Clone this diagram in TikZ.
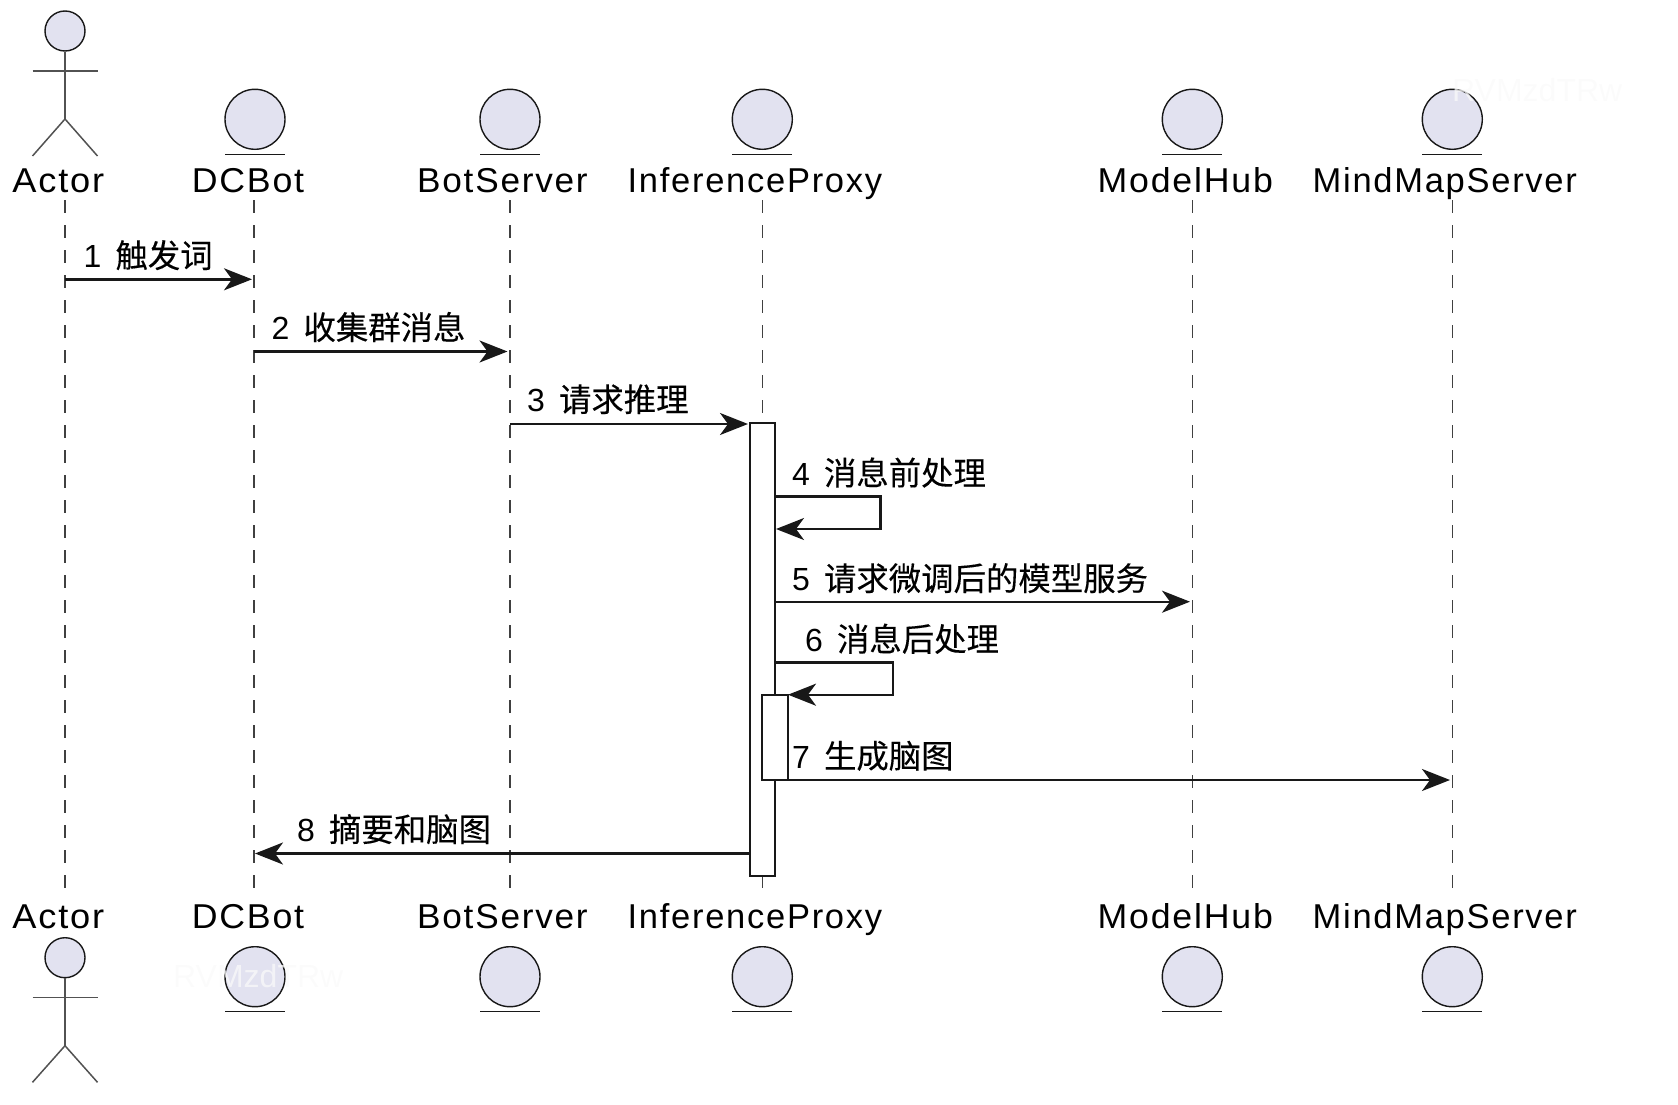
\documentclass[tikz,border=0pt]{standalone}
\usepackage{fontspec}
\usetikzlibrary{arrows.meta}
\setmainfont{Liberation Sans}
\newfontfamily\namefont[LetterSpace=5]{Liberation Sans}
\newfontfamily\cjk[FakeBold=0.25]{Noto Sans CJK SC}
\definecolor{actfill}{HTML}{E2E2F0}
\definecolor{ink}{HTML}{181818}
\definecolor{lifeline}{HTML}{404040}
\definecolor{faint}{HTML}{FAFAFA}
\newcommand{\msgtext}[2]{#1\hspace{14pt}{\fontsize{32.4}{38}\selectfont\cjk #2}}
\tikzset{
  x=1pt,y=-1pt,
  head/.style={circle,draw=ink,fill=actfill,line width=1.4pt,minimum size=60pt,inner sep=0pt},
  smallhead/.style={circle,draw=ink,fill=actfill,line width=1.4pt,minimum size=40pt,inner sep=0pt},
  under/.style={draw=ink,line width=1.4pt},
  limb/.style={draw=ink!75,line width=1.5pt},
  namelabel/.style={anchor=base west,inner sep=0pt,text=black,font=\fontsize{34.5}{40}\selectfont\namefont},
  msglabel/.style={anchor=base west,inner sep=0pt,text=black,font=\fontsize{32}{38}\selectfont},
  wmark/.style={anchor=base west,inner sep=0pt,text=faint,opacity=.75,font=\fontsize{32}{38}\selectfont},
  lifelinestyle/.style={draw=lifeline,line width=1.4pt,dash pattern=on 13pt off 12pt},
  msg/.style={draw=ink,line width=2.4pt,-{Stealth[length=28pt,width=22pt,inset=8pt]}},
  selfmsg/.style={msg,rounded corners=0pt},
  actbox/.style={draw=ink,fill=white,line width=2.2pt}
}
\begin{document}
\begin{tikzpicture}
\useasboundingbox (0,0) rectangle (1678,1105);
% lifelines
\coordinate (l1a) at (65,200);\coordinate (l1b) at (65,890);
\coordinate (l2a) at (254,200);\coordinate (l2b) at (254,890);
\coordinate (l3a) at (510,200);\coordinate (l3b) at (510,890);
\coordinate (l4a) at (762.3,200);\coordinate (l4b) at (762.3,890);
\coordinate (l5a) at (1192.3,200);\coordinate (l5b) at (1192.3,890);
\coordinate (l6a) at (1452.3,200);\coordinate (l6b) at (1452.3,890);
\foreach \i in {1,...,6} \draw[lifelinestyle] (l\i a) -- (l\i b);
% names top
\node[namelabel] (n1t) at (12.2,192.4) {\scalebox{1.05}[1]{Actor}};
\node[namelabel] (n2t) at (191.7,192.4) {\scalebox{1.035}[1]{DCBot}};
\node[namelabel] (n3t) at (417,192.4) {\scalebox{1.02}[1]{BotServer}};
\node[namelabel] (n4t) at (627.5,192.4) {InferenceProxy};
\node[namelabel] (n5t) at (1097.5,192.4) {\scalebox{1.035}[1]{ModelHub}};
\node[namelabel] (n6t) at (1312.5,192.4) {MindMapServer};
% names bottom
\node[namelabel] (n1b) at (12.2,928) {\scalebox{1.05}[1]{Actor}};
\node[namelabel] (n2b) at (191.7,928) {\scalebox{1.035}[1]{DCBot}};
\node[namelabel] (n3b) at (417,928) {\scalebox{1.02}[1]{BotServer}};
\node[namelabel] (n4b) at (627.5,928) {InferenceProxy};
\node[namelabel] (n5b) at (1097.5,928) {\scalebox{1.035}[1]{ModelHub}};
\node[namelabel] (n6b) at (1312.5,928) {MindMapServer};
% actor figures
\node[smallhead] (at) at (65,31) {};
\coordinate (atarml) at (32.5,71);\coordinate (atarmr) at (97.5,71);
\coordinate (atcrotch) at (65,119);
\coordinate (atlegl) at (32.5,156);\coordinate (atlegr) at (97.5,156);
\draw[limb] (at.south) -- (atcrotch);
\draw[limb] (atarml) -- (atarmr);
\draw[limb] (atlegl) -- (atcrotch) -- (atlegr);
\node[smallhead] (ab) at (65,957.7) {};
\coordinate (abarml) at (32.5,997.7);\coordinate (abarmr) at (97.5,997.7);
\coordinate (abcrotch) at (65,1045.7);
\coordinate (ablegl) at (32.5,1082.3);\coordinate (ablegr) at (97.5,1082.3);
\draw[limb] (ab.south) -- (abcrotch);
\draw[limb] (abarml) -- (abarmr);
\draw[limb] (ablegl) -- (abcrotch) -- (ablegr);
% entity heads
\foreach \nm/\cx in {dc/255,bs/510,ip/762.3,mh/1192.3,mm/1452.3}{
  \node[head] (\nm t) at (\cx,119.3) {};
  \draw[under] ([xshift=-30pt,yshift=-35pt]\nm t.center) -- ([xshift=30pt,yshift=-35pt]\nm t.center);
  \node[head] (\nm b) at (\cx,976.7) {};
  \draw[under] ([xshift=-30pt,yshift=-35pt]\nm b.center) -- ([xshift=30pt,yshift=-35pt]\nm b.center);
}
% activations
\node[actbox,draw,minimum width=25pt,minimum height=452.4pt,inner sep=0pt] (act1) at (762.5,649.5) {};
\node[actbox,draw,minimum width=25.4pt,minimum height=85.3pt,inner sep=0pt] (act2) at (775,737.3) {};
% messages
\coordinate (m1a) at (65,279.3);\coordinate (m1b) at (252,279.3);
\coordinate (m2a) at (254,351.5);\coordinate (m2b) at (507.5,351.5);
\coordinate (m3a) at (510,424);\coordinate (m3b) at (748,424);
\coordinate (m4a) at (775,496.3);\coordinate (m4c) at (880.3,496.3);\coordinate (m4d) at (880.3,529);\coordinate (m4b) at (776,529);
\coordinate (m5a) at (775,601.7);\coordinate (m5b) at (1190,601.7);
\coordinate (m6a) at (775,662.3);\coordinate (m6c) at (892.7,662.3);\coordinate (m6d) at (892.7,694.7);\coordinate (m6b) at (788,694.7);
\coordinate (m7a) at (787.7,780);\coordinate (m7b) at (1450,780);
\coordinate (m8a) at (750,853.5);\coordinate (m8b) at (255,853.5);
\draw[msg] (m1a) -- (m1b);
\draw[msg] (m2a) -- (m2b);
\draw[msg] (m3a) -- (m3b);
\draw[selfmsg] (m4a) -- (m4c) -- (m4d) -- (m4b);
\draw[msg] (m5a) -- (m5b);
\draw[selfmsg] (m6a) -- (m6c) -- (m6d) -- (m6b);
\draw[msg] (m7a) -- (m7b);
\draw[msg] (m8a) -- (m8b);
% message labels
\node[msglabel] (t1) at (83.5,267.5) {\msgtext{1}{触发词}};
\node[msglabel] (t2) at (271.5,339.5) {\msgtext{2}{收集群消息}};
\node[msglabel] (t3) at (527,411.5) {\msgtext{3}{请求推理}};
\node[msglabel] (t4) at (792,485) {\msgtext{4}{消息前处理}};
\node[msglabel] (t5) at (792,590.5) {\msgtext{5}{请求微调后的模型服务}};
\node[msglabel] (t6) at (805,651.2) {\msgtext{6}{消息后处理}};
\node[msglabel] (t7) at (792,768) {\msgtext{7}{生成脑图}};
\node[msglabel] (t8) at (297,841.5) {\msgtext{8}{摘要和脑图}};
% watermarks
\node[wmark] (w1) at (1452,102) {RVMzdTRw};
\node[wmark] (w2) at (173,987) {RVMzdTRw};
\end{tikzpicture}
\end{document}
